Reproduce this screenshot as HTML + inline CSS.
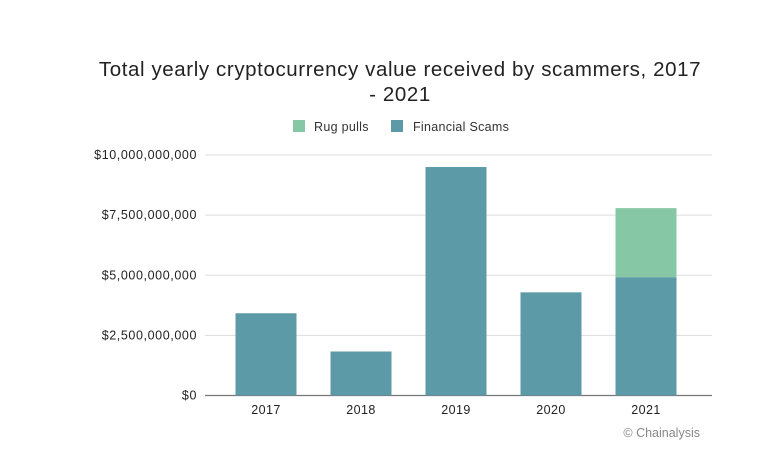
<!DOCTYPE html>
<html><head><meta charset="utf-8"><style>
html,body{margin:0;padding:0;background:#fff;width:780px;height:470px;overflow:hidden}
svg{font-family:"Liberation Sans",sans-serif}
</style></head><body>
<svg id="chart" width="780" height="470" xmlns="http://www.w3.org/2000/svg">
<text x="400" y="76" text-anchor="middle" font-size="20.5" letter-spacing="0.6" fill="#222">Total yearly cryptocurrency value received by scammers, 2017</text>
<text x="400" y="101" text-anchor="middle" font-size="20.5" letter-spacing="0.6" fill="#222">- 2021</text>
<g>
<rect x="293" y="120" width="12" height="12" fill="#86c7a6"/>
<text x="314" y="131" font-size="12.5" letter-spacing="0.3" fill="#333">Rug pulls</text>
<rect x="391" y="120" width="12" height="12" fill="#5d9aa8"/>
<text x="413" y="131" font-size="12.5" letter-spacing="0.3" fill="#333">Financial Scams</text>
</g>
<g id="grid"></g><g id="bars"></g><g id="xlabels"></g>
<text x="700" y="437" text-anchor="end" font-size="12.5" fill="#888">© Chainalysis</text>
</svg>
<script>
const categories=["2017","2018","2019","2020","2021"];
const financialScams=[3.42,1.83,9.5,4.29,4.92];
const rugPulls=[0,0,0,0,2.87];
const yTicks=[0,2.5,5,7.5,10];
const yTickLabels=["$0","$2,500,000,000","$5,000,000,000","$7,500,000,000","$10,000,000,000"];
const NS="http://www.w3.org/2000/svg";
const y0=395.5,y1=155,plotL=205,plotR=712,bandL=218.5,band=95,barW=61;
function y(v){return y0-(v/10)*(y0-y1);}
function xc(i){return bandL+band*i+band/2;}
function mk(t,a,p){const e=document.createElementNS(NS,t);for(const k in a)e.setAttribute(k,a[k]);p.appendChild(e);return e;}
const grid=document.getElementById('grid');
yTicks.forEach((v,i)=>{
  const l=mk('line',{x1:plotL,x2:plotR,y1:y(v),y2:y(v),stroke:v===0?'#777':'#ddd','stroke-width':v===0?1.3:1},grid);
  
  
  const t=mk('text',{x:197,y:y(v)+4,'text-anchor':'end','font-size':12.5,'letter-spacing':0.6,fill:'#222'},grid);
  t.textContent=yTickLabels[i];
  
  
});
const bars=document.getElementById('bars'),xl=document.getElementById('xlabels');
categories.forEach((c,i)=>{
  const x=xc(i)-barW/2;
  const b=mk('rect',{x:x,y:y(financialScams[i]),width:barW,height:y(0)-y(financialScams[i]),fill:'#5d9aa8'},bars);
  
  
  if(rugPulls[i]>0){
    const top=financialScams[i]+rugPulls[i];
    const r=mk('rect',{x:x,y:y(top),width:barW,height:y(financialScams[i])-y(top),fill:'#86c7a6'},bars);
    
    
  }
  const t=mk('text',{x:xc(i),y:414,'text-anchor':'middle','font-size':12.5,'letter-spacing':0.4,fill:'#222'},xl);
  t.textContent=c;
  
  
});
</script>
</body></html>
